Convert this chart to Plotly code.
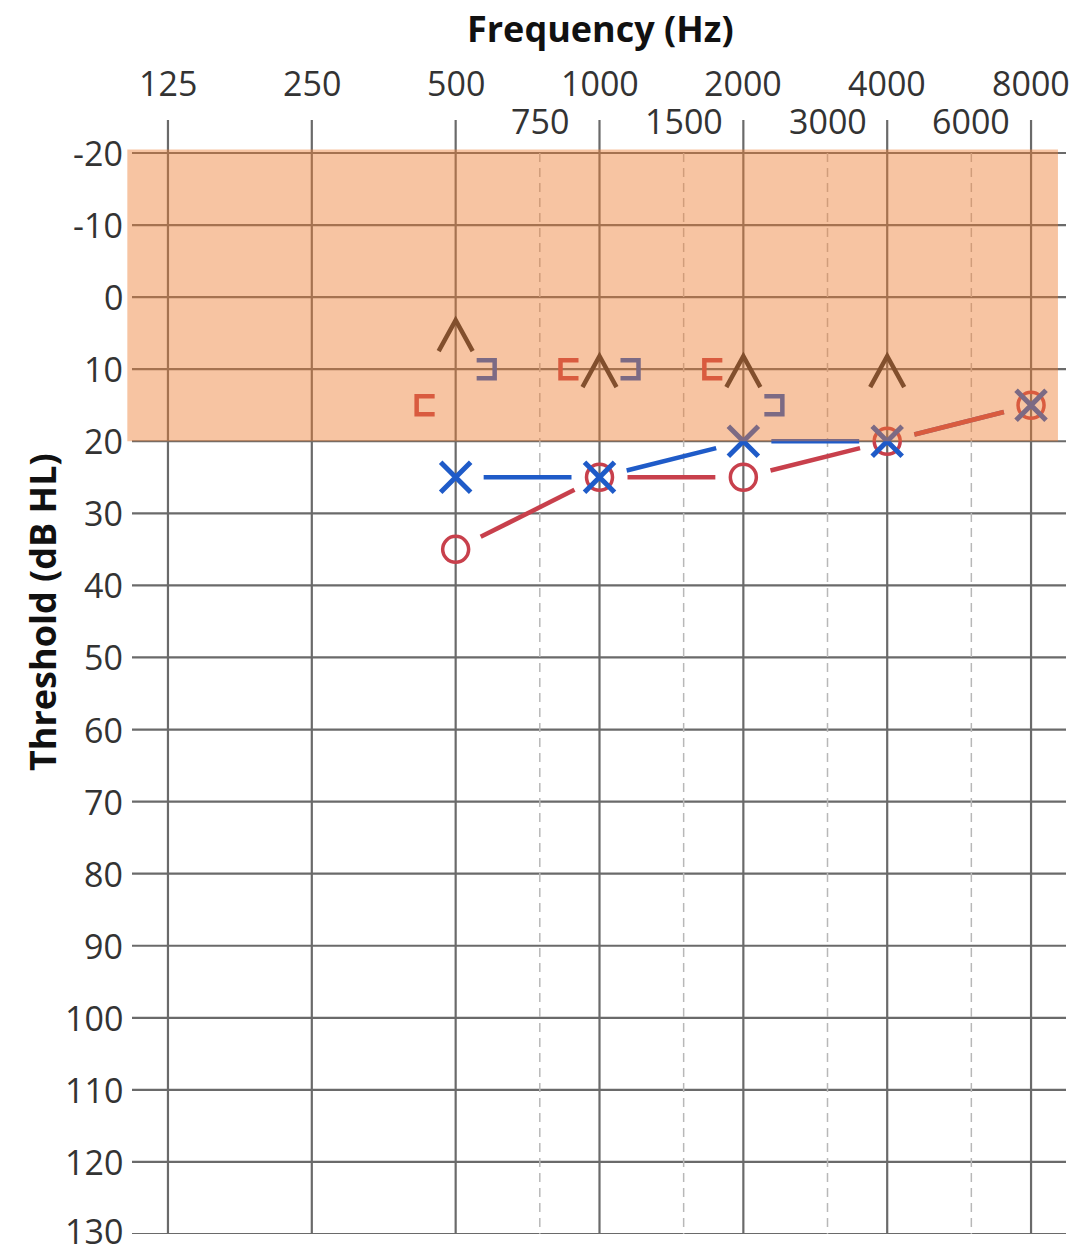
import math
import plotly.graph_objects as go

# Frequency grid (Hz) and hearing-level grid (dB HL)
FREQS_MAJOR = [125, 250, 500, 1000, 2000, 4000, 8000]
FREQS_MINOR = [750, 1500, 3000, 6000]
LEVELS = list(range(-20, 131, 10))

# Air conduction thresholds
air_freqs = [500, 1000, 2000, 4000, 8000]
right_air = [35, 25, 25, 20, 15]   # right ear, O
left_air = [25, 25, 20, 20, 15]    # left ear, X

# Masked bone conduction thresholds
right_bone_freqs = [500, 1000, 2000]
right_bone = [15, 10, 10]
left_bone_freqs = [500, 1000, 2000]
left_bone = [10, 10, 15]

# Chevron markers
chev_freqs = [500, 1000, 2000, 4000]
chev_levels = [5, 10, 10, 10]

# Normal hearing range
normal_band = (-20, 20)

# Colours
RED = "#c8404c"
BLUE = "#1f5bc8"
DARK = "#2b2b2b"
GRID = "#6a6a6a"
DASH = "#b8b8b8"
BAND = "rgba(237,125,49,0.45)"
FONT = "Open Sans"
TICK_COLOR = "#333333"

# Figure geometry
W, H = 1080, 1254
M = dict(l=132, r=14, t=120, b=20)
PW = W - M["l"] - M["r"]
PH = H - M["t"] - M["b"]
X_RANGE = [math.log2(FREQS_MAJOR[0]) - 0.25, math.log2(FREQS_MAJOR[-1]) + 0.243]
Y_TOP = LEVELS[0] - 33 / (PH / 154.58)
Y_RANGE = [LEVELS[-1], Y_TOP]

SX = PW / (X_RANGE[1] - X_RANGE[0])        # px per octave
SY = PH / (Y_RANGE[0] - Y_RANGE[1])        # px per dB


def lx(f):
    return math.log2(f)


def gapped(freqs, levels, gap=28):
    """Connecting segments that stop short of each symbol."""
    xs, ys = [], []
    for i in range(len(freqs) - 1):
        xa, xb = lx(freqs[i]), lx(freqs[i + 1])
        ya, yb = levels[i], levels[i + 1]
        dxp, dyp = (xb - xa) * SX, (yb - ya) * SY
        d = math.hypot(dxp, dyp)
        t = gap / d
        xs += [xa + (xb - xa) * t, xb - (xb - xa) * t, None]
        ys += [ya + (yb - ya) * t, yb - (yb - ya) * t, None]
    return xs, ys


fig = go.Figure()

# connecting lines
bx, by = gapped(air_freqs, left_air)
fig.add_trace(go.Scatter(x=bx, y=by, mode="lines",
                         line=dict(color=BLUE, width=4.5), hoverinfo="skip"))
rx, ry = gapped(air_freqs, right_air)
fig.add_trace(go.Scatter(x=rx, y=ry, mode="lines",
                         line=dict(color=RED, width=4.5), hoverinfo="skip"))

# symbols
fig.add_trace(go.Scatter(
    x=[lx(f) for f in air_freqs], y=right_air, mode="markers",
    marker=dict(symbol="circle-open", size=26, color=RED,
                line=dict(color=RED, width=3.5)),
    name="Right ear"))
fig.add_trace(go.Scatter(
    x=[lx(f) for f in air_freqs], y=left_air, mode="markers",
    marker=dict(symbol="x-thin-open", size=30, color=BLUE,
                line=dict(color=BLUE, width=5)),
    name="Left ear"))

shapes = []

# horizontal grid lines
for lv in LEVELS:
    shapes.append(dict(type="line", xref="paper", yref="y", x0=0, x1=1,
                       y0=lv, y1=lv, layer="below",
                       line=dict(color=GRID, width=2.2)))
# octave lines
for f in FREQS_MAJOR:
    shapes.append(dict(type="line", xref="x", yref="paper", x0=lx(f), x1=lx(f),
                       y0=0, y1=1, layer="below",
                       line=dict(color=GRID, width=2.2)))
# inter-octave dashed lines
for f in FREQS_MINOR:
    shapes.append(dict(type="line", xref="x", yref="y", x0=lx(f), x1=lx(f),
                       y0=LEVELS[0], y1=LEVELS[-1], layer="below",
                       line=dict(color=DASH, width=1.5, dash="9px,6px")))


def bracket(f, lv, side, color):
    # side = -1: opening right, placed left of the line; +1: opening left, placed right
    off = 30 * side
    w, h = 9, 9
    if side < 0:
        path = f"M {off + w},{h} L {off - w},{h} L {off - w},{-h} L {off + w},{-h}"
    else:
        path = f"M {off - w},{h} L {off + w},{h} L {off + w},{-h} L {off - w},{-h}"
    return dict(type="path", xref="x", yref="y", xsizemode="pixel", ysizemode="pixel",
                xanchor=lx(f), yanchor=lv, path=path, layer="above",
                line=dict(color=color, width=4.5))


for f, lv in zip(right_bone_freqs, right_bone):
    shapes.append(bracket(f, lv, -1, RED))
for f, lv in zip(left_bone_freqs, left_bone):
    shapes.append(bracket(f, lv, +1, BLUE))

for f, lv in zip(chev_freqs, chev_levels):
    shapes.append(dict(type="path", xref="x", yref="y", xsizemode="pixel",
                       ysizemode="pixel", xanchor=lx(f), yanchor=lv,
                       path="M -17,-18 L 0,13 L 17,-18", layer="above",
                       line=dict(color=DARK, width=4.5)))

# normal range band, drawn over everything
shapes.append(dict(type="rect", xref="paper", yref="y", x0=-0.005, x1=0.9914,
                   y0=normal_band[0] - 0.5, y1=normal_band[1], layer="above",
                   fillcolor=BAND, line=dict(width=0)))

annotations = []
for f in FREQS_MAJOR:
    annotations.append(dict(x=lx(f), y=1, xref="x", yref="paper", text=str(f),
                            showarrow=False, xanchor="center", yanchor="middle",
                            yshift=37, font=dict(family=FONT, size=34, color=TICK_COLOR)))
for f in FREQS_MINOR:
    annotations.append(dict(x=lx(f), y=1, xref="x", yref="paper", text=str(f),
                            showarrow=False, xanchor="center", yanchor="middle",
                            yshift=-1, font=dict(family=FONT, size=34, color=TICK_COLOR)))
for lv in LEVELS:
    annotations.append(dict(x=0, y=lv, xref="paper", yref="y", text=str(lv),
                            showarrow=False, xanchor="right", yanchor="middle",
                            xshift=-8, yshift=(3 if lv == LEVELS[-1] else 0),
                            borderpad=0,
                            font=dict(family=FONT, size=34, color=TICK_COLOR)))
annotations.append(dict(x=0.5, y=1, xref="paper", yref="paper", text="<b>Frequency (Hz)</b>",
                        showarrow=False, xanchor="center", yanchor="middle",
                        xshift=(600 - (M["l"] + PW / 2)), yshift=92,
                        font=dict(family=FONT, size=36, color="#111111")))
annotations.append(dict(x=0, y=0.5, xref="paper", yref="paper", text="<b>Threshold (dB HL)</b>",
                        showarrow=False, xanchor="center", yanchor="middle", textangle=-90,
                        xshift=42 - M["l"], yshift=(M["t"] + PH / 2) - 612,
                        font=dict(family=FONT, size=36, color="#111111")))

fig.update_layout(
    width=W, height=H, margin=M,
    paper_bgcolor="white", plot_bgcolor="white",
    showlegend=False,
    shapes=shapes, annotations=annotations,
    xaxis=dict(range=X_RANGE, showgrid=False, zeroline=False, showline=False,
               showticklabels=False, ticks=""),
    yaxis=dict(range=Y_RANGE, showgrid=False, zeroline=False, showline=False,
               showticklabels=False, ticks=""),
)

fig.write_html("out.html")
